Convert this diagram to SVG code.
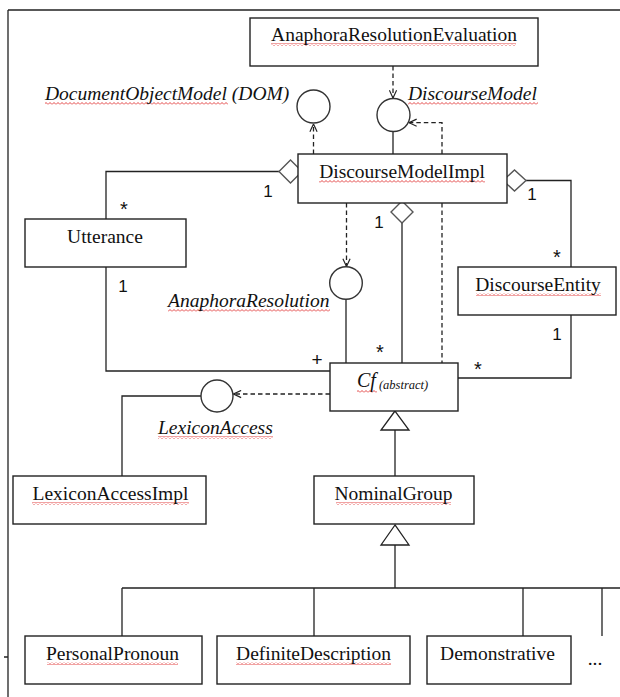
<svg xmlns="http://www.w3.org/2000/svg" width="620" height="697" viewBox="0 0 620 697" font-family="Liberation Serif, Times New Roman, serif">
<style>
.box{fill:#fff;stroke:#222;stroke-width:1.4}
.ln{fill:none;stroke:#222;stroke-width:1.3}
.dl{fill:none;stroke:#222;stroke-width:1.3;stroke-dasharray:4.5 3}
.ci{fill:#fff;stroke:#333;stroke-width:1.4}
.dia{fill:#fff;stroke:#555;stroke-width:1.4}
.tri{fill:#fff;stroke:#222;stroke-width:1.3}
.sq{fill:url(#squig)}
</style>
<defs>
<pattern id="squig" x="0" y="0" width="4" height="3" patternUnits="userSpaceOnUse">
<path d="M0,2.5 L2,0.5 L4,2.5" fill="none" stroke="#e03030" stroke-width="0.9"/>
</pattern>
<marker id="open" viewBox="0 0 10 10" refX="9.5" refY="5" markerWidth="9" markerHeight="9" markerUnits="userSpaceOnUse" orient="auto">
<path d="M1,1 L9.5,5 L1,9" fill="none" stroke="#222" stroke-width="1.3"/>
</marker>
</defs>
<g id="frame">
<path class="ln" d="M8,10 H620 M8,10 V697 M4,657 H8"/>
</g>
<g id="connectors">
<path class="dl" d="M393,66 V98" marker-end="url(#open)"/>
<path class="dl" d="M313.5,154 V124" marker-end="url(#open)"/>
<path class="dl" d="M442,154 V122.7 H409" marker-end="url(#open)"/>
<path class="dl" d="M346.5,203 V266.5" marker-end="url(#open)"/>
<path class="dl" d="M442,203 V363"/>
<path class="dl" d="M330,394 H233.5" marker-end="url(#open)"/>
<path class="ln" d="M393,131.5 V154"/>
<path class="ln" d="M279,171.5 H106 V219"/>
<path class="ln" d="M526,180.5 H571 V267"/>
<path class="ln" d="M402,223 V363"/>
<path class="ln" d="M346,299 V363"/>
<path class="ln" d="M106,267 V371 H330"/>
<path class="ln" d="M571,315 V378 H458"/>
<path class="ln" d="M201,396 H122 V476"/>
<path class="ln" d="M395,430 V476"/>
<path class="ln" d="M395,545 V588 M122,588 H620 M122,588 V636 M314,588 V636 M523,588 V636 M602,588 V636"/>
<polygon class="dia" points="279,171.5 290.5,160 302,171.5 290.5,183"/>
<polygon class="dia" points="503,180.5 514.5,170 526,180.5 514.5,191"/>
<polygon class="dia" points="391,212 402,201 413,212 402,223"/>
<polygon class="tri" points="395,411 381,430 409,430"/>
<polygon class="tri" points="395,525 381,545 409,545"/>
<g fill="#111" text-anchor="middle" font-family="Liberation Sans, Arial, sans-serif" font-size="17">
<text x="268" y="197">1</text>
<text x="124" y="216" font-size="20">*</text>
<text x="123" y="292">1</text>
<text x="532" y="200">1</text>
<text x="379" y="228">1</text>
<text x="557" y="264" font-size="20">*</text>
<text x="557" y="340">1</text>
<text x="478" y="376" font-size="20">*</text>
<text x="380" y="359" font-size="20">*</text>
<text x="317" y="366" font-size="19">+</text>
</g>
</g>
<g id="AnaphoraResolutionEvaluation">
<rect class="box" x="250" y="18" width="288" height="48"/>
<rect class="sq" x="271" y="43" width="245" height="3"/>
<text x="394" y="41" fill="#111" text-anchor="middle" font-family="Liberation Serif, Times New Roman, serif" font-size="19.5">AnaphoraResolutionEvaluation</text>
</g>
<g id="DocumentObjectModel">
<circle class="ci" cx="313.5" cy="106.5" r="16.5"/>
<rect class="sq" x="45" y="102" width="183" height="3"/>
<text x="45" y="100" fill="#111" font-family="Liberation Serif, Times New Roman, serif" font-style="italic" font-size="19.5">DocumentObjectModel (DOM)</text>
</g>
<g id="DiscourseModel">
<circle class="ci" cx="393.5" cy="115" r="16.5"/>
<rect class="sq" x="408" y="102" width="130" height="3"/>
<text x="408" y="100" fill="#111" font-family="Liberation Serif, Times New Roman, serif" font-style="italic" font-size="19.5">DiscourseModel</text>
</g>
<g id="DiscourseModelImpl">
<rect class="box" x="298" y="154" width="209" height="49"/>
<rect class="sq" x="319" y="180" width="166" height="3"/>
<text x="402" y="178" fill="#111" text-anchor="middle" font-family="Liberation Serif, Times New Roman, serif" font-size="19.5">DiscourseModelImpl</text>
</g>
<g id="Utterance">
<rect class="box" x="25" y="219" width="161" height="48"/>
<text x="105" y="243" fill="#111" text-anchor="middle" font-family="Liberation Serif, Times New Roman, serif" font-size="19.5">Utterance</text>
</g>
<g id="AnaphoraResolution">
<circle class="ci" cx="346" cy="283" r="16.3"/>
<rect class="sq" x="168" y="309" width="162" height="3"/>
<text x="168" y="307" fill="#111" font-family="Liberation Serif, Times New Roman, serif" font-style="italic" font-size="19.5">AnaphoraResolution</text>
</g>
<g id="DiscourseEntity">
<rect class="box" x="458" y="267" width="158" height="48"/>
<rect class="sq" x="476" y="293" width="125" height="3"/>
<text x="538" y="291" fill="#111" text-anchor="middle" font-family="Liberation Serif, Times New Roman, serif" font-size="19.5">DiscourseEntity</text>
</g>
<g id="Cf">
<rect class="box" x="330" y="363" width="128" height="48"/>
<rect class="sq" x="357" y="390" width="20" height="3"/>
<text x="357" y="387" fill="#111" font-family="Liberation Serif, Times New Roman, serif" font-style="italic" font-size="20">Cf<tspan dx="3" dy="2" font-size="12.5">(abstract)</tspan></text>
</g>
<g id="LexiconAccess">
<circle class="ci" cx="217" cy="396" r="16"/>
<rect class="sq" x="158" y="436" width="115" height="3"/>
<text x="158" y="434" fill="#111" font-family="Liberation Serif, Times New Roman, serif" font-style="italic" font-size="19.5">LexiconAccess</text>
</g>
<g id="LexiconAccessImpl">
<rect class="box" x="13" y="476" width="193" height="48"/>
<rect class="sq" x="32" y="502" width="157" height="3"/>
<text x="110.5" y="500" fill="#111" text-anchor="middle" font-family="Liberation Serif, Times New Roman, serif" font-size="19.5">LexiconAccessImpl</text>
</g>
<g id="NominalGroup">
<rect class="box" x="314" y="476" width="160" height="48"/>
<rect class="sq" x="336" y="502" width="115" height="3"/>
<text x="393.5" y="500" fill="#111" text-anchor="middle" font-family="Liberation Serif, Times New Roman, serif" font-size="19.5">NominalGroup</text>
</g>
<g id="PersonalPronoun">
<rect class="box" x="25" y="636" width="177" height="48"/>
<rect class="sq" x="47" y="662" width="131" height="3"/>
<text x="112.5" y="660" fill="#111" text-anchor="middle" font-family="Liberation Serif, Times New Roman, serif" font-size="19.5">PersonalPronoun</text>
</g>
<g id="DefiniteDescription">
<rect class="box" x="217" y="636" width="193" height="48"/>
<rect class="sq" x="236" y="662" width="155" height="3"/>
<text x="313.5" y="660" fill="#111" text-anchor="middle" font-family="Liberation Serif, Times New Roman, serif" font-size="19.5">DefiniteDescription</text>
</g>
<g id="Demonstrative">
<rect class="box" x="427" y="636" width="144" height="48"/>
<text x="497.5" y="660" fill="#111" text-anchor="middle" font-family="Liberation Serif, Times New Roman, serif" font-size="19.5">Demonstrative</text>
</g>
<g id="more">
<text x="595" y="665" fill="#111" text-anchor="middle" font-family="Liberation Serif, Times New Roman, serif" font-size="19.5">...</text>
</g>
</svg>
